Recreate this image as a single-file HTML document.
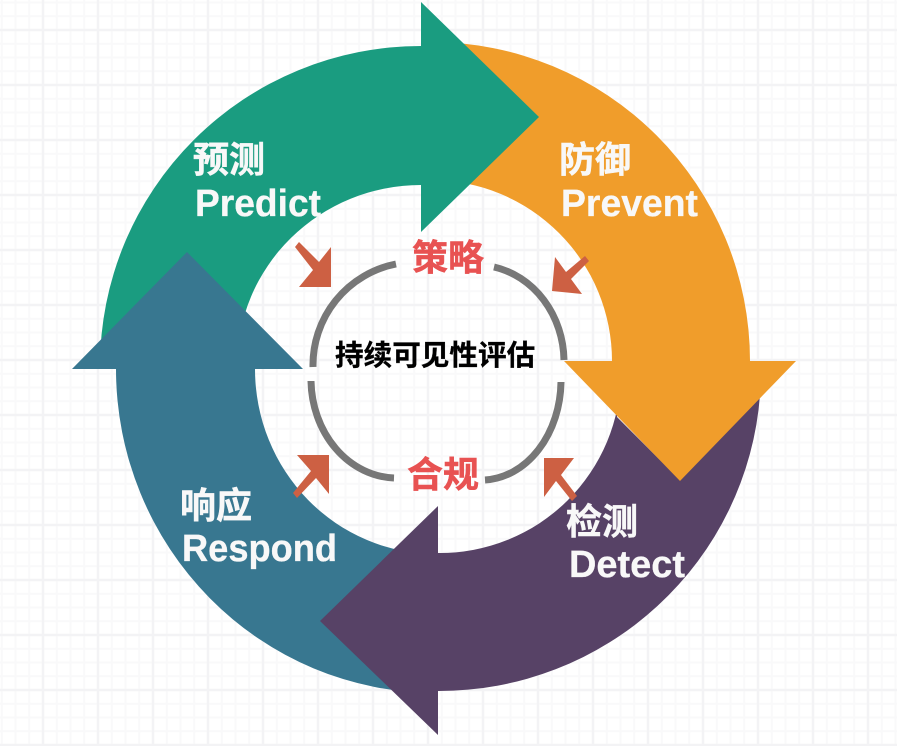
<!DOCTYPE html>
<html lang="zh">
<head>
<meta charset="utf-8">
<style>
html,body{margin:0;padding:0;background:#fff}
svg{display:block}
text{font-family:"Liberation Sans","Noto Sans CJK SC",sans-serif;font-weight:700}
.w{fill:#f8f8f8;font-size:36px;stroke:#f8f8f8;stroke-width:.5px}
.l{fill:#f8f8f8;font-size:38px;stroke:#f8f8f8;stroke-width:.3px}
.r{fill:#e85252;font-size:36px;stroke:#e85252;stroke-width:.5px}
</style>
</head>
<body>
<svg width="897" height="746" viewBox="0 0 897 746" xmlns="http://www.w3.org/2000/svg">
<defs>
<pattern id="g" x="-12" y="-25" width="55" height="55" patternUnits="userSpaceOnUse">
<path d="M13.75 0V55M27.5 0V55M41.25 0V55M0 13.75H55M0 27.5H55M0 41.25H55" stroke="#f9f9fa" stroke-width="2" fill="none"/>
<path d="M55 0V55M0 55H55M0 0H55M0 0V55" stroke="#f3f3f5" stroke-width="2.5" fill="none"/>
</pattern>
</defs>
<rect width="897" height="746" fill="#fff"/>
<rect width="897" height="746" fill="url(#g)"/>

<!-- purple -->
<path fill="#574266" d="M438 553A181 181 0 0 0 621 372L617 417L680 480L760 395A322 320 0 0 1 438 691Z"/>
<!-- orange -->
<path fill="#f09d2b" d="M431 42A319 319 0 0 1 750 361H796L680 481L564 361H612A181 181 0 0 0 431 180Z"/>
<!-- green -->
<path fill="#1a9c80" d="M100 366A321 320 0 0 1 421 46V2L539 117L421 232V185A184 181 0 0 0 237 366Z"/>
<!-- teal -->
<path fill="#387790" d="M436 693A320 324 0 0 1 116 369H72L187 252L303 369H255A181 185 0 0 0 436 554Z"/>
<!-- purple head -->
<path fill="#574266" d="M438 506L320 621L438 735Z"/>

<!-- inner gray arcs -->
<g fill="none" stroke="#777" stroke-width="7">
<path d="M313 367A103 103 0 0 1 396 264"/>
<path d="M494 267A88 97 0 0 1 564 360"/>
<path d="M311 381A86 99 0 0 0 394 478"/>
<path d="M485 480A80 100 0 0 0 561 382"/>
</g>

<!-- small arrows -->
<g fill="#cd6043">
<path d="M331 247V287H299L313 270L295 247L299 242L319 262Z"/>
<path d="M555 257L552 291L582 294L571 279L589 261L585 256L566 272Z"/>
<path d="M297 455H329V494L316 478L297 498L293 493L311 471Z"/>
<path d="M544 458H574L561 475L577 496L572 501L556 481L544 497Z"/>
</g>

<!-- labels -->
<text class="w" x="193" y="172">预测</text>
<text class="l" x="195" y="216" textLength="126" lengthAdjust="spacingAndGlyphs">Predict</text>
<text class="w" x="559" y="172">防御</text>
<text class="l" x="561" y="216" textLength="137" lengthAdjust="spacingAndGlyphs">Prevent</text>
<text class="w" x="180" y="518">响应</text>
<text class="l" x="182" y="561" textLength="155" lengthAdjust="spacingAndGlyphs">Respond</text>
<text class="w" x="566" y="534">检测</text>
<text class="l" x="569" y="577" textLength="116" lengthAdjust="spacingAndGlyphs">Detect</text>
<text class="r" x="412" y="270">策略</text>
<text class="r" x="407" y="487">合规</text>
<text x="335" y="365" font-size="28.6" fill="#000" stroke="#000" stroke-width=".3">持续可见性评估</text>
</svg>
</body>
</html>
